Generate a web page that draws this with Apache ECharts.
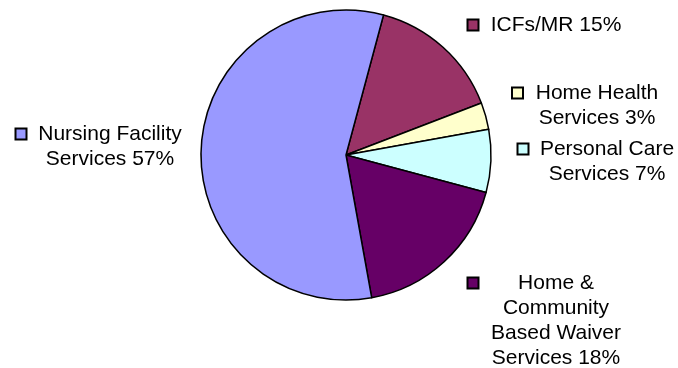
<!DOCTYPE html>
<html>
<head>
<meta charset="utf-8">
<script src="https://cdn.jsdelivr.net/npm/echarts@6/dist/echarts.min.js"></script>
<style>
  html, body { margin: 0; padding: 0; background: #fff; }
  #chart { width: 678px; height: 368px; }
</style>
</head>
<body>
<div id="chart"></div>
<script>
// Slices, clockwise from the top
const categories = [
  ['ICFs/MR'],
  ['Home Health', 'Services'],
  ['Personal Care', 'Services'],
  ['Home &', 'Community', 'Based Waiver', 'Services'],
  ['Nursing Facility', 'Services']
];
const shares = [15, 3, 7, 18, 57];
const colors = ['#993366', '#FFFFCC', '#CCFFFF', '#660066', '#9999FF'];

// Label placement: text block centre x, first-line centre y, marker centre x
const labelAnchors = [
  { x: 556, y: 25, mx: 473 },
  { x: 597, y: 93, mx: 517.5 },
  { x: 607, y: 149, mx: 523 },
  { x: 556, y: 283, mx: 473 },
  { x: 110, y: 134, mx: 21 }
];

const LINE_H = 25;
const pieCenter = [346, 155];
const pieRadius = 145;

function labelText(i) {
  const lines = categories[i].slice();
  lines[lines.length - 1] += ' ' + shares[i] + '%';
  return lines.join('\n');
}

const chart = echarts.init(document.getElementById('chart'), null, { renderer: 'canvas' });

chart.setOption({
  backgroundColor: '#ffffff',
  animation: false,
  series: [
    {
      // colour-key squares beside each label
      type: 'pie',
      silent: true,
      z: 1,
      center: pieCenter,
      radius: pieRadius,
      startAngle: 75,
      clockwise: true,
      itemStyle: { color: 'transparent', borderWidth: 0 },
      emphasis: { disabled: true },
      labelLine: { show: false },
      label: {
        show: true,
        position: 'outside',
        overflow: 'none',
        formatter: p => '{m' + p.dataIndex + '|}',
        rich: Object.fromEntries(colors.map((c, i) => ['m' + i, {
          width: 9, height: 9, backgroundColor: c, borderColor: '#000', borderWidth: 2
        }]))
      },
      labelLayout: p => ({
        x: labelAnchors[p.dataIndex].mx,
        y: labelAnchors[p.dataIndex].y,
        align: 'center',
        verticalAlign: 'middle',
        hideOverlap: false
      }),
      data: shares.map((v, i) => ({ value: v, name: categories[i].join(' ') }))
    },
    {
      type: 'pie',
      z: 2,
      center: pieCenter,
      radius: pieRadius,
      startAngle: 75,
      clockwise: true,
      emphasis: { disabled: true },
      itemStyle: { borderColor: '#000', borderWidth: 1.5 },
      labelLine: { show: false },
      label: {
        show: true,
        position: 'outside',
        overflow: 'none',
        formatter: p => labelText(p.dataIndex),
        color: '#000',
        fontFamily: 'Liberation Sans, Arial, sans-serif',
        fontSize: 21,
        lineHeight: LINE_H,
        align: 'center'
      },
      labelLayout: p => ({
        x: labelAnchors[p.dataIndex].x,
        y: labelAnchors[p.dataIndex].y - LINE_H / 2,
        align: 'center',
        verticalAlign: 'top',
        hideOverlap: false
      }),
      data: shares.map((v, i) => ({
        value: v,
        name: categories[i].join(' '),
        itemStyle: { color: colors[i] }
      }))
    }
  ]
});
</script>
</body>
</html>
